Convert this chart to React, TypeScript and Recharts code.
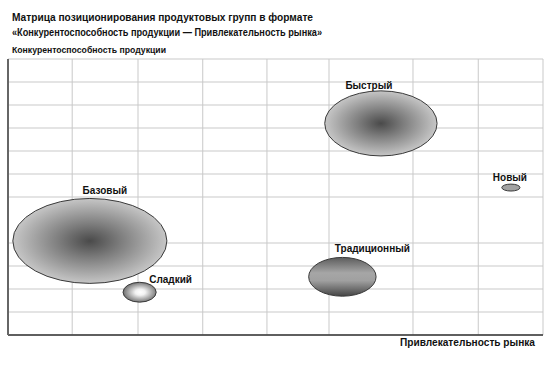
import { ScatterChart, Scatter, XAxis, YAxis, CartesianGrid } from 'recharts';

// product groups and their position on the matrix
const groups = ['Базовый', 'Сладкий', 'Быстрый', 'Новый', 'Традиционный'];
const attractiveness = [15.3, 24.6, 69.7, 94.0, 62.5];
const competitiveness = [4.09, 1.86, 9.2, 6.41, 2.53];
// half-extent of each ellipse, in axis units
const halfWidth = [14.4, 3.1, 10.5, 1.7, 6.3];
const halfHeight = [1.84, 0.43, 1.41, 0.15, 0.84];

// the grid is uneven in the original
const xGridTicks = [0, 12, 24.3, 36.4, 48.4, 60, 75.7, 87.9, 100];
const yGridTicks = [0, 1, 2, 3, 4, 5, 6, 7, 8, 9, 10, 11, 12];

const WIDTH = 550;
const HEIGHT = 365;
const MARGIN = { top: 59, right: 7, bottom: 29, left: 7 };
const X_MAX = 100;
const Y_MAX = 12;
const pxPerX = (WIDTH - 8 - MARGIN.right) / X_MAX;
const pxPerY = (HEIGHT - MARGIN.top - MARGIN.bottom) / Y_MAX;

const looks: Record<string, { fill: string; dx: number; dy: number }> = {
  'Базовый': { fill: 'url(#radialDark)', dx: 15, dy: -4 },
  'Сладкий': { fill: 'url(#radialWhite)', dx: 31, dy: 1 },
  'Быстрый': { fill: 'url(#radialDark)', dx: -12, dy: -2 },
  'Новый': { fill: '#a2a2a2', dx: -1, dy: -3 },
  'Традиционный': { fill: 'url(#linearBand)', dx: 30, dy: -5 },
};

const data = groups.map((name, i) => ({
  name,
  x: attractiveness[i],
  y: competitiveness[i],
  rx: halfWidth[i],
  ry: halfHeight[i],
}));

const font = 'Arial, "Liberation Sans", sans-serif';

function EllipseShape(props: any) {
  const { cx, cy, payload } = props;
  const rx = payload.rx * pxPerX;
  const ry = payload.ry * pxPerY;
  const look = looks[payload.name];
  return (
    <g>
      <ellipse cx={cx} cy={cy} rx={rx} ry={ry} fill={look.fill} stroke="#3a3a3a" strokeWidth={1} />
      <text
        x={cx + look.dx}
        y={cy - ry + look.dy}
        textAnchor="middle"
        fontFamily={font}
        fontWeight="bold"
        fontSize={10}
        fill="#111"
      >
        {payload.name}
      </text>
    </g>
  );
}

const noTick = () => <g />;

export default function App() {
  return (
    <div style={{ position: 'absolute', left: 0, top: 0, width: WIDTH, height: HEIGHT, background: '#fff' }}>
      <ScatterChart width={WIDTH} height={HEIGHT} margin={MARGIN}>
        <defs>
          <radialGradient id="radialDark" cx="50%" cy="50%" r="50%">
            <stop offset="0%" stopColor="#4a4a4a" />
            <stop offset="40%" stopColor="#7d7d7d" />
            <stop offset="100%" stopColor="#c6c6c6" />
          </radialGradient>
          <radialGradient id="radialWhite" cx="52%" cy="50%" r="50%">
            <stop offset="0%" stopColor="#fff" />
            <stop offset="30%" stopColor="#f2f2f2" />
            <stop offset="100%" stopColor="#777" />
          </radialGradient>
          <linearGradient id="linearBand" x1="0" y1="0" x2="0" y2="1">
            <stop offset="0%" stopColor="#5c5c5c" />
            <stop offset="40%" stopColor="#a6a6a6" />
            <stop offset="60%" stopColor="#a0a0a0" />
            <stop offset="100%" stopColor="#454545" />
          </linearGradient>
        </defs>
        <CartesianGrid stroke="#c9c9c9" strokeWidth={1} />
        <XAxis
          type="number"
          dataKey="x"
          domain={[0, X_MAX]}
          ticks={xGridTicks}
          tick={noTick}
          tickLine={false}
          height={1}
          axisLine={{ stroke: '#333', strokeWidth: 1.5 }}
        />
        <YAxis
          type="number"
          dataKey="y"
          domain={[0, Y_MAX]}
          ticks={yGridTicks}
          tick={noTick}
          tickLine={false}
          width={1}
          axisLine={{ stroke: '#666', strokeWidth: 2 }}
        />
        <Scatter data={data} shape={EllipseShape} isAnimationActive={false} />
        <text x={12} y={21} fontFamily={font} fontWeight="bold" fontSize={10.5} fill="#111" textLength={301} lengthAdjust="spacingAndGlyphs">
          Матрица позиционирования продуктовых групп в формате
        </text>
        <text x={12} y={36} fontFamily={font} fontWeight="bold" fontSize={10.5} fill="#111" textLength={310} lengthAdjust="spacingAndGlyphs">
          «Конкурентоспособность продукции — Привлекательность рынка»
        </text>
        <text x={12} y={53} fontFamily={font} fontWeight="bold" fontSize={9.5} fill="#111" textLength={154} lengthAdjust="spacingAndGlyphs">
          Конкурентоспособность продукции
        </text>
        <text x={400} y={346} fontFamily={font} fontWeight="bold" fontSize={10} fill="#111" textLength={135} lengthAdjust="spacingAndGlyphs">
          Привлекательность рынка
        </text>
      </ScatterChart>
    </div>
  );
}
